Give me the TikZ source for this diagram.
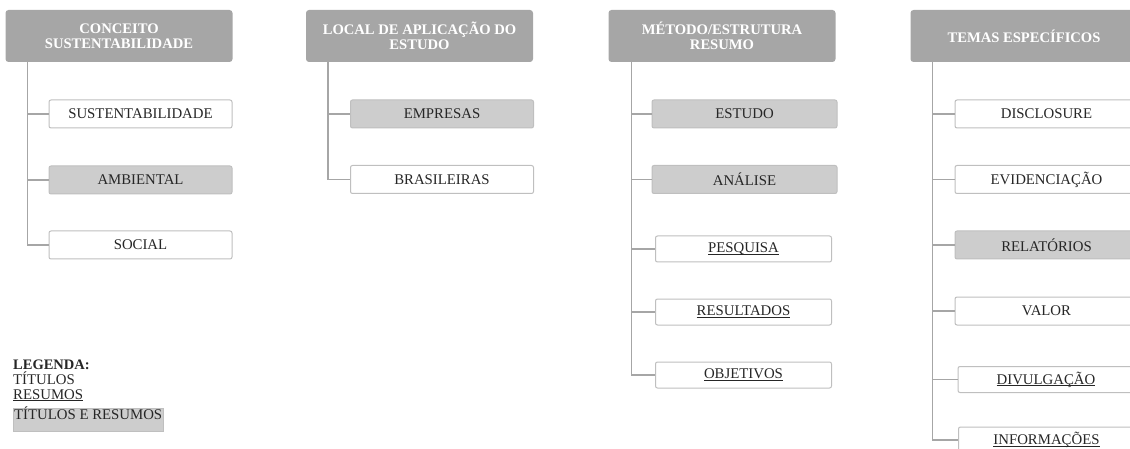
\documentclass[tikz,border=0pt]{standalone}
\usepackage{fontspec}
\setmainfont{Liberation Serif}
\usetikzlibrary{positioning, calc}

\definecolor{headgray}{HTML}{A6A6A6}
\definecolor{leafgray}{HTML}{CDCDCD}
\definecolor{edgegray}{HTML}{BFBFBF}
\definecolor{linkgray}{HTML}{A6A6A6}
\definecolor{inkgray}{HTML}{262626}

% underline close to the baseline
\newcommand{\ulin}[1]{\underline{\smash{#1}}\vphantom{#1}}

\begin{document}
\begin{tikzpicture}[
  x=1pt, y=-1pt,
  every node/.style={font=\fontsize{14.8}{15}\selectfont, text=inkgray, inner sep=0pt},
  header/.style={fill=headgray, rounded corners=3pt, minimum width=227pt, minimum height=52pt,
    align=center, text=white, font=\fontsize{14.6}{15}\selectfont\bfseries},
  leaf/.style={draw=edgegray, fill=white, line width=1pt, rounded corners=2pt,
    minimum width=183pt, minimum height=28pt},
  grayleaf/.style={leaf, fill=leafgray},
  resumo/.style={leaf, minimum width=176pt, minimum height=26pt},
  link/.style={draw=linkgray, line width=1.5pt}
]
\useasboundingbox (0,0) rectangle (1130,449);

% Conceito
\node[header] (hd1) at (119,36) {CONCEITO\\SUSTENTABILIDADE};
\node[leaf] (c1a) at (140.5,114) {SUSTENTABILIDADE};
\node[grayleaf] (c1b) at (140.5,180) {AMBIENTAL};
\node[leaf] (c1c) at (140.5,245) {SOCIAL};

% Local
\node[header] (hd2) at (419.5,36) {LOCAL DE APLICAÇÃO DO\\ESTUDO};
\node[grayleaf] (c2a) at (442,114) {EMPRESAS};
\node[leaf] (c2b) at (442,179.5) {BRASILEIRAS};

% Metodo
\node[header] (hd3) at (722,36) {MÉTODO/ESTRUTURA\\RESUMO};
\node[grayleaf, minimum width=185pt] (c3a) at (744.5,114) {ESTUDO};
\node[grayleaf, minimum width=185pt] (c3b) at (744.5,179.5) {ANÁLISE};
\node[resumo] (c3c) at (743.5,249) {\ulin{PESQUISA}};
\node[resumo] (c3d) at (743.5,312) {\ulin{RESULTADOS}};
\node[resumo] (c3e) at (743.5,375) {\ulin{OBJETIVOS}};

% Temas
\node[header] (hd4) at (1024,36) {TEMAS ESPECÍFICOS};
\node[leaf] (c4a) at (1046.5,114) {DISCLOSURE};
\node[leaf] (c4b) at (1046.5,179.5) {EVIDENCIAÇÃO};
\node[grayleaf] (c4c) at (1046.5,245) {RELATÓRIOS};
\node[leaf] (c4d) at (1046.5,311) {VALOR};
\node[resumo] (c4e) at (1046,379.5) {\ulin{DIVULGAÇÃO}};
\node[resumo] (c4f) at (1046.5,440) {\ulin{INFORMAÇÕES}};

% trunks
\coordinate (t1) at ($(hd1.south west)+(22,0)$);
\coordinate (t2) at ($(hd2.south west)+(22,0)$);
\coordinate (t3) at ($(hd3.south west)+(23,0)$);
\coordinate (t4) at ($(hd4.south west)+(22,0)$);
\foreach \c in {c1a,c1b,c1c} \draw[link] (t1) |- (\c.west);
\foreach \c in {c2a,c2b} \draw[link] (t2) |- (\c.west);
\foreach \c in {c3a,c3b,c3c,c3d,c3e} \draw[link] (t3) |- (\c.west);
\foreach \c in {c4a,c4b,c4c,c4d,c4e,c4f} \draw[link] (t4) |- (\c.west);

% Legenda
\node[anchor=base west, font=\fontsize{14.5}{15}\selectfont\bfseries] (lg0) at (13,369) {LEGENDA:};
\node[anchor=base west] (lg1) at (13,384) {TÍTULOS};
\node[anchor=base west] (lg2) at (13,399) {\ulin{RESUMOS}};
\node[anchor=north west, draw=edgegray, fill=leafgray, minimum width=150pt,
  text height=11pt, text depth=11pt, inner ysep=0.5pt] (lg3) at (13,408) {TÍTULOS E RESUMOS};
\end{tikzpicture}
\end{document}
